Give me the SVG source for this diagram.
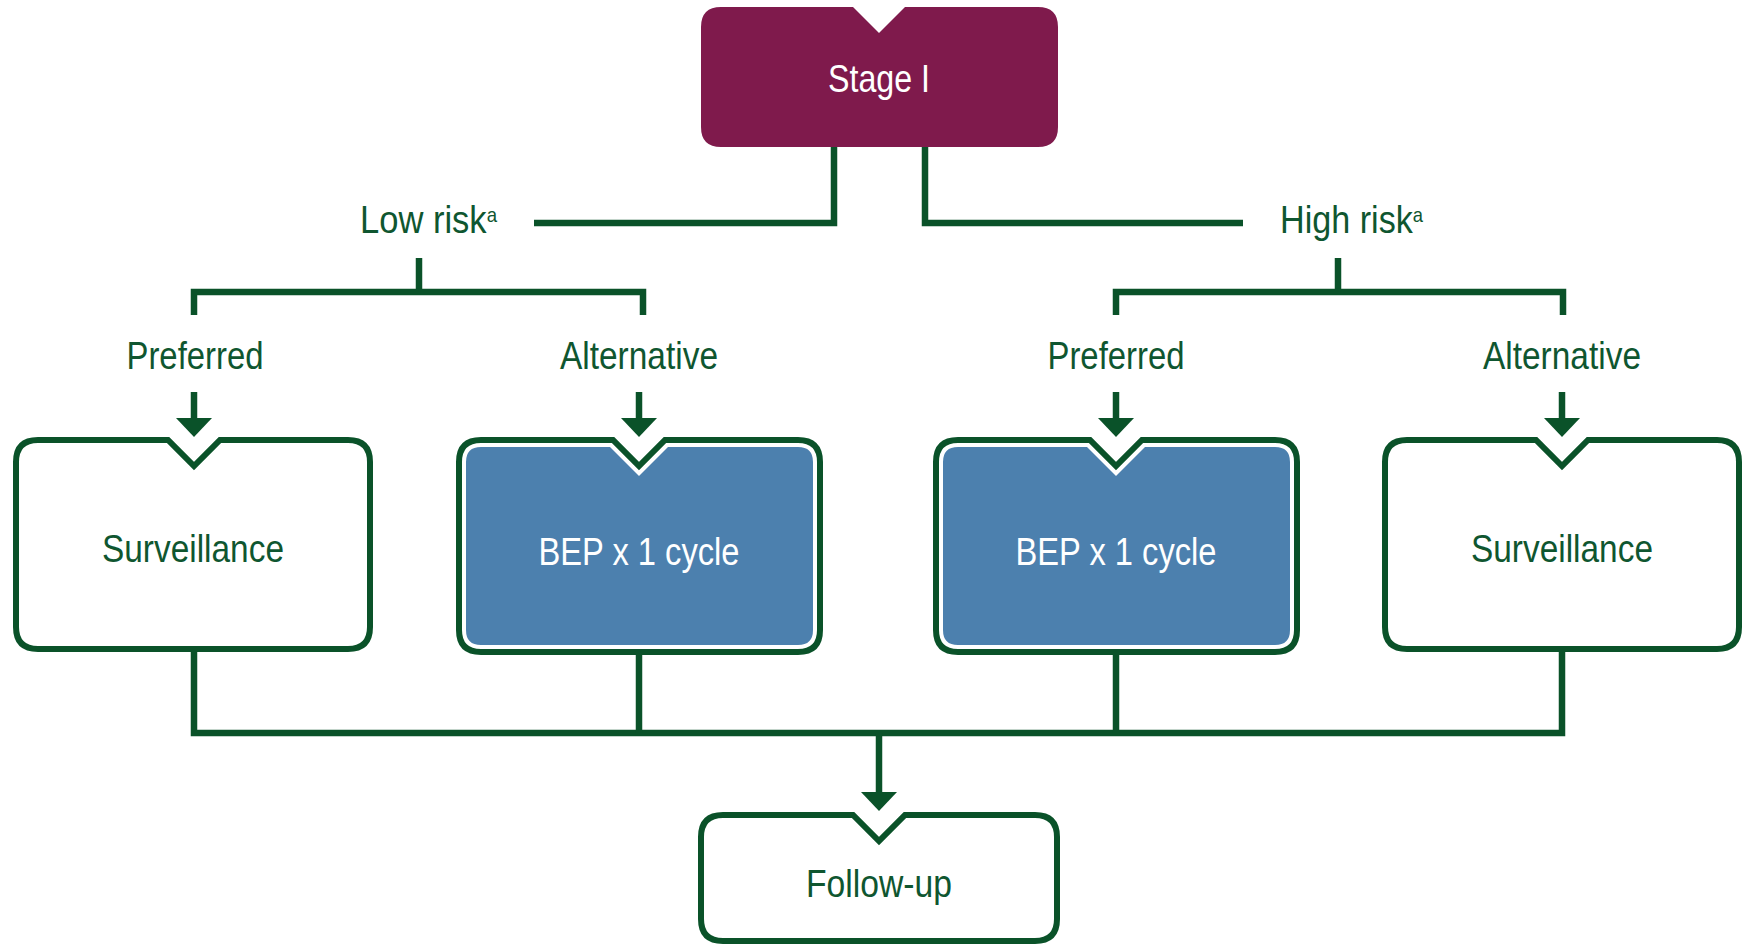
<svg xmlns="http://www.w3.org/2000/svg" width="1748" height="946" viewBox="0 0 1748 946">
  <style>
    .lbl { font-family: "Liberation Sans", Arial, sans-serif; fill: #0f5630; font-size: 39px; }
    .sup { font-size: 21px; }
    .white { fill: #ffffff; }
    .wire { fill: none; stroke: #0a5229; stroke-width: 6.5; stroke-linejoin: miter; }
    .head { fill: #0a5229; }
    .frame { fill: #ffffff; stroke: #0a5229; stroke-width: 6; }
    .core { fill: #4c80ae; }
  </style>

  <!-- connectors -->
  <g id="connectors">
    <path class="wire" d="M834 147 V223 H534"/>
    <path class="wire" d="M925 147 V223 H1243"/>
    <path class="wire" d="M419 258 V292"/>
    <path class="wire" d="M194 315 V292 H643 V315"/>
    <path class="wire" d="M1338 258 V292"/>
    <path class="wire" d="M1116 315 V292 H1563 V315"/>
    <!-- arrows into the treatment boxes -->
    <path class="wire" d="M194 392 V420"/>
    <polygon class="head" points="176,418 212,418 194,437"/>
    <path class="wire" d="M639 392 V420"/>
    <polygon class="head" points="621,418 657,418 639,437"/>
    <path class="wire" d="M1116 392 V420"/>
    <polygon class="head" points="1098,418 1134,418 1116,437"/>
    <path class="wire" d="M1562 392 V420"/>
    <polygon class="head" points="1544,418 1580,418 1562,437"/>
    <!-- merge to follow-up -->
    <path class="wire" d="M194 649 V733 H1562 V649"/>
    <path class="wire" d="M639 652 V733"/>
    <path class="wire" d="M1116 652 V733"/>
    <path class="wire" d="M879 733 V794"/>
    <polygon class="head" points="861,792 897,792 879,811"/>
  </g>

  <!-- Stage I -->
  <g id="stage">
    <path fill="#7f1a4c" d="M721 7 H853 L879 33 L905 7 H1038 Q1058 7 1058 27 V127 Q1058 147 1038 147 H721 Q701 147 701 127 V27 Q701 7 721 7 Z"/>
    <text class="lbl white" x="879" y="92" text-anchor="middle" font-size="40" textLength="102" lengthAdjust="spacingAndGlyphs">Stage I</text>
  </g>

  <!-- risk headings with footnote marks -->
  <g id="low-risk">
    <text class="lbl" x="360" y="233" textLength="137" lengthAdjust="spacingAndGlyphs">Low risk<tspan class="sup" dy="-11">a</tspan></text>
  </g>
  <g id="high-risk">
    <text class="lbl" x="1280" y="233" textLength="143" lengthAdjust="spacingAndGlyphs">High risk<tspan class="sup" dy="-11">a</tspan></text>
  </g>

  <g id="low-preferred"><text class="lbl" x="195" y="369" text-anchor="middle" textLength="137" lengthAdjust="spacingAndGlyphs">Preferred</text></g>
  <g id="low-alternative"><text class="lbl" x="639" y="369" text-anchor="middle" textLength="158" lengthAdjust="spacingAndGlyphs">Alternative</text></g>
  <g id="high-preferred"><text class="lbl" x="1116" y="369" text-anchor="middle" textLength="137" lengthAdjust="spacingAndGlyphs">Preferred</text></g>
  <g id="high-alternative"><text class="lbl" x="1562" y="369" text-anchor="middle" textLength="158" lengthAdjust="spacingAndGlyphs">Alternative</text></g>

  <!-- Surveillance (low risk) -->
  <g id="surveillance-low">
    <path class="frame" d="M38 440 H168 L194 466 L220 440 H348 Q370 440 370 462 V627 Q370 649 348 649 H38 Q16 649 16 627 V462 Q16 440 38 440 Z"/>
    <text class="lbl" x="193" y="562" text-anchor="middle" textLength="182" lengthAdjust="spacingAndGlyphs">Surveillance</text>
  </g>

  <!-- BEP (low risk) -->
  <g id="bep-low">
    <path class="frame" d="M481 440 H613 L639 466 L665 440 H798 Q820 440 820 462 V630 Q820 652 798 652 H481 Q459 652 459 630 V462 Q459 440 481 440 Z"/>
    <path class="core" d="M481 447 H610 L639 476 L668 447 H798 Q813 447 813 462 V630 Q813 645 798 645 H481 Q466 645 466 630 V462 Q466 447 481 447 Z"/>
    <text class="lbl white" x="639" y="565" text-anchor="middle" textLength="201" lengthAdjust="spacingAndGlyphs">BEP x 1 cycle</text>
  </g>

  <!-- BEP (high risk) -->
  <g id="bep-high">
    <path class="frame" d="M958 440 H1090 L1116 466 L1142 440 H1275 Q1297 440 1297 462 V630 Q1297 652 1275 652 H958 Q936 652 936 630 V462 Q936 440 958 440 Z"/>
    <path class="core" d="M958 447 H1087 L1116 476 L1145 447 H1275 Q1290 447 1290 462 V630 Q1290 645 1275 645 H958 Q943 645 943 630 V462 Q943 447 958 447 Z"/>
    <text class="lbl white" x="1116" y="565" text-anchor="middle" textLength="201" lengthAdjust="spacingAndGlyphs">BEP x 1 cycle</text>
  </g>

  <!-- Surveillance (high risk) -->
  <g id="surveillance-high">
    <path class="frame" d="M1407 440 H1536 L1562 466 L1588 440 H1717 Q1739 440 1739 462 V627 Q1739 649 1717 649 H1407 Q1385 649 1385 627 V462 Q1385 440 1407 440 Z"/>
    <text class="lbl" x="1562" y="562" text-anchor="middle" textLength="182" lengthAdjust="spacingAndGlyphs">Surveillance</text>
  </g>

  <!-- Follow-up -->
  <g id="follow-up">
    <path class="frame" d="M723 815 H853 L879 841 L905 815 H1035 Q1057 815 1057 837 V919 Q1057 941 1035 941 H723 Q701 941 701 919 V837 Q701 815 723 815 Z"/>
    <text class="lbl" x="879" y="897" text-anchor="middle" textLength="146" lengthAdjust="spacingAndGlyphs">Follow-up</text>
  </g>
</svg>
